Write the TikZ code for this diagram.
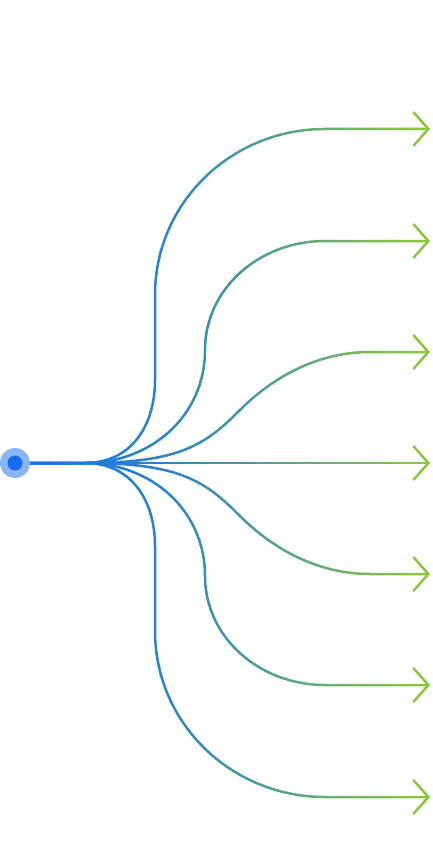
\documentclass[tikz,border=0pt]{standalone}
\usetikzlibrary{arrows.meta}
\definecolor{fanbright}{RGB}{20,108,240}
\definecolor{fanblue}{RGB}{40,130,210}
\definecolor{fangreen}{RGB}{140,198,63}
\definecolor{halo}{RGB}{140,182,242}
\tikzset{fan/.style={line width=2.5pt,-{Straight Barb[length=15pt,width=34pt]}}}
\begin{document}
\begin{tikzpicture}[x=1pt,y=-1pt]
\useasboundingbox (0,0) rectangle (432,864);
\coordinate (dot) at (15,463);
\coordinate (hub) at (85,463);
\coordinate (mid) at (430,463);
\def\fanlines#1{%
  \draw[fan,draw=#1] (dot) -- (mid);
  \foreach \s in {1,-1}{
    \begin{scope}[shift={(hub)},yscale=-\s]
      \coordinate (o) at (0,0);
      \coordinate (t1) at (345,334);
      \coordinate (t2) at (345,222);
      \coordinate (t3) at (345,111);
      \draw[fan,draw=#1] (dot) -- (o) .. controls +(46,0) and +(0,-46) .. (70,83) -- (70,168)
        .. controls +(0,92) and +(-94,0) .. (240,334) -- (t1);
      \draw[fan,draw=#1] (dot) -- (o) .. controls +(66,0) and +(0,-66) .. (120,113)
        .. controls +(0,61) and +(-66,0) .. (240,222) -- (t2);
      \draw[fan,draw=#1] (dot) -- (o) .. controls +(95,0) and +(-35,-35) .. (155,53)
        .. controls +(35,35) and +(-50,0) .. (285,111) -- (t3);
    \end{scope}
  }
}
\foreach \i in {0,...,14}{
  \pgfmathtruncatemacro\p{100*\i/14}
  \begin{scope}
    \clip (10*\i-0.4,-5) rectangle (10*\i+10.4,869);
    \fanlines{fanblue!\p!fanbright}
  \end{scope}
}
\foreach \i in {15,...,43}{
  \pgfmathtruncatemacro\p{min(100,100*(\i-15)/26)}
  \begin{scope}
    \clip (10*\i-0.4,-5) rectangle (10*\i+10.4,869);
    \fanlines{fangreen!\p!fanblue}
  \end{scope}
}
\fill[halo] (dot) circle (15pt);
\fill[fanbright] (dot) circle (7.5pt);
\end{tikzpicture}
\end{document}
